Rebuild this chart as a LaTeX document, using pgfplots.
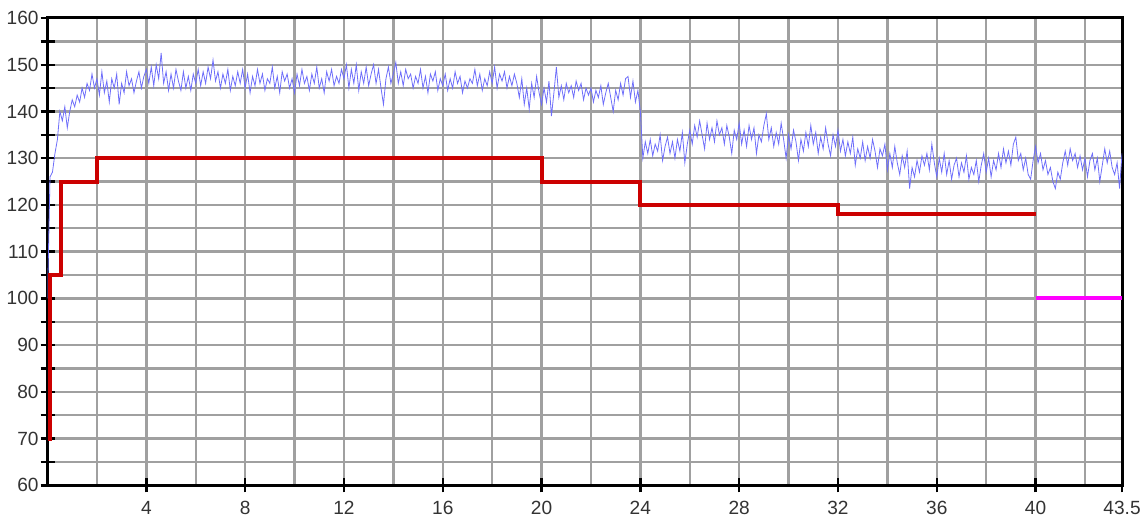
\documentclass[border=0pt]{standalone}
\usepackage{fontspec}
\setmainfont{Liberation Sans}
\usepackage{pgfplots}
\pgfplotsset{compat=1.18}
\definecolor{gridgray}{RGB}{160,160,160}
\definecolor{sigblue}{RGB}{110,110,250}
\definecolor{stepred}{RGB}{204,0,0}
\definecolor{tailmag}{RGB}{255,0,255}

\begin{document}
\begin{tikzpicture}
\begin{axis}[
  scale only axis, width=538bp, height=234bp,
  xmin=0, xmax=43.5, ymin=60, ymax=160,
  xtick={4,8,...,40,43.5},
  minor xtick={2,6,...,42},
  ytick={60,70,...,160},
  minor ytick={65,75,...,155},
  grid=both,
  major grid style={gridgray, line width=1.2bp},
  minor grid style={gridgray, line width=1.2bp},
  tick pos=left, tick align=center,
  major tick length=7bp, minor tick length=7bp,
  tick style={black, line width=1.2bp},
  minor x tick style={draw=none},
  axis line style={black, line width=1.5bp},
  ticklabel style={font=\fontsize{9.6}{12}\selectfont, text=black!80},
  yticklabel style={xshift=2.5bp},
  xticklabel style={yshift=-1bp},
  /pgf/number format/assume math mode=true,
]
% measured signal
\addplot[sigblue, line width=0.4bp] coordinates {
(0.0,100) (0.1,126) (0.2,127) (0.3,131) (0.4,134) (0.5,140) (0.6,138) (0.7,141) (0.8,136.5) (0.9,140)
(1.0,142.5) (1.1,141) (1.2,143.5) (1.3,142) (1.4,145) (1.5,143) (1.6,146) (1.7,144.5) (1.8,148) (1.9,145)
(2.0,147) (2.1,143.5) (2.2,148.5) (2.3,144) (2.4,146.5) (2.5,142) (2.6,147) (2.7,145) (2.8,148) (2.9,141.5)
(3.0,146) (3.1,144) (3.2,148.5) (3.3,145.5) (3.4,147) (3.5,144) (3.6,146.5) (3.7,148.5) (3.8,145) (3.9,147.5)
(4.0,149) (4.1,146) (4.2,149.5) (4.3,145.5) (4.4,150) (4.5,147) (4.6,152.5) (4.7,146) (4.8,148.5) (4.9,144.5)
(5.0,148) (5.1,145) (5.2,149) (5.3,146.5) (5.4,144.5) (5.5,148.5) (5.6,145) (5.7,147.5) (5.8,144.5) (5.9,148)
(6.0,146) (6.1,149) (6.2,145.5) (6.3,148.5) (6.4,146) (6.5,149.5) (6.6,147) (6.7,151) (6.8,146.5) (6.9,148.5)
(7.0,145) (7.1,148) (7.2,146) (7.3,149) (7.4,144.5) (7.5,147.5) (7.6,145.5) (7.7,148.5) (7.8,146) (7.9,149)
(8.0,145) (8.1,148) (8.2,144) (8.3,147.5) (8.4,145.5) (8.5,149) (8.6,146) (8.7,148) (8.8,144.5) (8.9,147)
(9.0,146) (9.1,149.5) (9.2,145) (9.3,147.5) (9.4,144) (9.5,148.5) (9.6,146.5) (9.7,148) (9.8,145) (9.9,147)
(10.0,144) (10.1,148) (10.2,145.5) (10.3,149) (10.4,146) (10.5,147.5) (10.6,144.5) (10.7,148) (10.8,146) (10.9,149.5)
(11.0,145) (11.1,147) (11.2,144) (11.3,148.5) (11.4,146.5) (11.5,149) (11.6,145.5) (11.7,147.5) (11.8,146) (11.9,149)
(12.0,147) (12.1,150) (12.2,145) (12.3,149) (12.4,146) (12.5,150) (12.6,144.5) (12.7,148.5) (12.8,146) (12.9,149.5)
(13.0,145.5) (13.1,148) (13.2,150) (13.3,146) (13.4,149) (13.5,145) (13.6,141.5) (13.7,147) (13.8,149.5) (13.9,146)
(14.0,148) (14.1,150.5) (14.2,146) (14.3,148.5) (14.4,145.5) (14.5,149) (14.6,147) (14.7,148) (14.8,145) (14.9,147.5)
(15.0,146) (15.1,149) (15.2,145) (15.3,147.5) (15.4,144) (15.5,148) (15.6,146.5) (15.7,148.5) (15.8,144.5) (15.9,147)
(16.0,145.5) (16.1,148) (16.2,144.5) (16.3,147) (16.4,145) (16.5,148.5) (16.6,146) (16.7,147.5) (16.8,144) (16.9,146.5)
(17.0,145) (17.1,147) (17.2,146) (17.3,149) (17.4,145.5) (17.5,148) (17.6,144.5) (17.7,147) (17.8,145.5) (17.9,148.5)
(18.0,146) (18.1,149.5) (18.2,145) (18.3,148) (18.4,146.5) (18.5,148.5) (18.6,145) (18.7,147.5) (18.8,145.5) (18.9,148)
(19.0,146) (19.1,143) (19.2,147) (19.3,141.5) (19.4,145) (19.5,140.5) (19.6,146) (19.7,143) (19.8,147.5) (19.9,144)
(20.0,141.5) (20.1,145) (20.2,142) (20.3,146.5) (20.4,139) (20.5,144) (20.6,149.5) (20.7,143) (20.8,145.5) (20.9,142.5)
(21.0,146) (21.1,144) (21.2,145.5) (21.3,143) (21.4,146.5) (21.5,144.5) (21.6,146) (21.7,142.5) (21.8,145) (21.9,143.5)
(22.0,145) (22.1,142) (22.2,144.5) (22.3,143) (22.4,145.5) (22.5,141.5) (22.6,144) (22.7,146) (22.8,143) (22.9,140)
(23.0,144.5) (23.1,142.5) (23.2,146) (23.3,143.5) (23.4,147) (23.5,147.5) (23.6,143) (23.7,146.5) (23.8,142) (23.9,144.5)
(24.0,140) (24.1,130) (24.2,133.5) (24.3,131) (24.4,134) (24.5,130.5) (24.6,133) (24.7,131.5) (24.8,135) (24.9,129.5)
(25.0,132.5) (25.1,134.5) (25.2,131) (25.3,133.5) (25.4,130) (25.5,134) (25.6,131.5) (25.7,135.5) (25.8,129) (25.9,133)
(26.0,136) (26.1,133) (26.2,137) (26.3,134.5) (26.4,138) (26.5,135) (26.6,132) (26.7,137.5) (26.8,134) (26.9,136.5)
(27.0,133.5) (27.1,138) (27.2,135) (27.3,136.5) (27.4,133) (27.5,137) (27.6,134.5) (27.7,131) (27.8,136) (27.9,134)
(28.0,137.5) (28.1,133) (28.2,136) (28.3,132.5) (28.4,137) (28.5,134) (28.6,136.5) (28.7,131) (28.8,135) (28.9,133.5)
(29.0,137) (29.1,139.5) (29.2,134) (29.3,136.5) (29.4,132.5) (29.5,135.5) (29.6,133) (29.7,137.5) (29.8,134) (29.9,130)
(30.0,135) (30.1,132) (30.2,136) (30.3,133.5) (30.4,129.5) (30.5,134) (30.6,131.5) (30.7,135.5) (30.8,132.5) (30.9,137)
(31.0,133) (31.1,135.5) (31.2,131) (31.3,134.5) (31.4,132) (31.5,136.5) (31.6,133) (31.7,130.5) (31.8,135) (31.9,132.5)
(32.0,136) (32.1,131.5) (32.2,134) (32.3,130.5) (32.4,133.5) (32.5,131) (32.6,134.5) (32.7,128.5) (32.8,132) (32.9,130)
(33.0,133.5) (33.1,129.5) (33.2,132.5) (33.3,130) (33.4,134) (33.5,131.5) (33.6,128) (33.7,132) (33.8,130.5) (33.9,133)
(34.0,127.5) (34.1,131) (34.2,128) (34.3,132.5) (34.4,129) (34.5,126.5) (34.6,130.5) (34.7,128) (34.8,131.5) (34.9,123.5)
(35.0,128) (35.1,126) (35.2,129.5) (35.3,127) (35.4,130.5) (35.5,128.5) (35.6,131) (35.7,127.5) (35.8,133) (35.9,129)
(36.0,126) (36.1,130) (36.2,127) (36.3,131) (36.4,126.5) (36.5,129.5) (36.6,125.5) (36.7,128.5) (36.8,130) (36.9,126)
(37.0,129) (37.1,127) (37.2,130.5) (37.3,125.5) (37.4,128) (37.5,126.5) (37.6,129.5) (37.7,125) (37.8,128.5) (37.9,131)
(38.0,127) (38.1,130) (38.2,126) (38.3,129.5) (38.4,127.5) (38.5,131) (38.6,128) (38.7,132) (38.8,129) (38.9,131.5)
(39.0,128.5) (39.1,133) (39.2,134.5) (39.3,129.5) (39.4,131) (39.5,127.5) (39.6,130) (39.7,126.5) (39.8,125.5) (39.9,129.5)
(40.0,132.5) (40.1,129) (40.2,131) (40.3,127.5) (40.4,129.5) (40.5,126.5) (40.6,128) (40.7,125) (40.8,123.5) (40.9,127)
(41.0,125.5) (41.1,129) (41.2,131.5) (41.3,128.5) (41.4,132) (41.5,129.5) (41.6,131) (41.7,128) (41.8,130.5) (41.9,127.5)
(42.0,130) (42.1,126) (42.2,129.5) (42.3,131) (42.4,127.5) (42.5,130) (42.6,125) (42.7,128.5) (42.8,132) (42.9,129)
(43.0,131.5) (43.1,128) (43.2,126.5) (43.3,129) (43.4,123.5) (43.5,131)
};
% set point steps
\addplot[stepred, line width=2bp, const plot] coordinates {
(0,70) (0.08,105) (0.53,125) (2,130) (20,125) (24,120) (32,118) (40,118)
};
\addplot[tailmag, line width=2bp] coordinates {(40,100) (43.5,100)};
\end{axis}
\path (current axis.south west) ++(-23bp,-17bp);
\path (current axis.north east) ++(13bp,9bp);
\end{tikzpicture}
\end{document}
